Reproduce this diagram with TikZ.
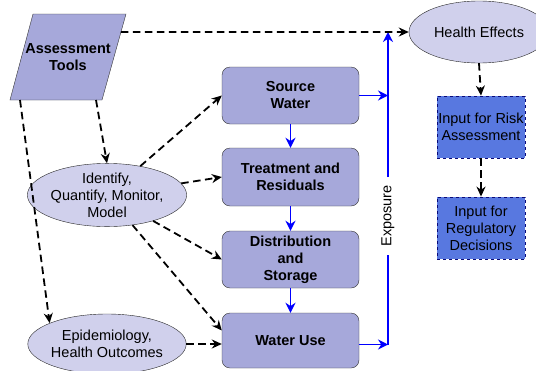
\documentclass[tikz,border=0pt]{standalone}
\usepackage{fontspec}
\setmainfont{Liberation Sans}
\usepackage{xcolor}
\usepackage{tikz}
\usetikzlibrary{calc}
\usetikzlibrary{arrows.meta}
\usetikzlibrary{shapes.geometric}

\definecolor{stagefill}{RGB}{166,168,218}
\definecolor{ovalfill}{RGB}{208,208,236}
\definecolor{inputfill}{RGB}{88,120,224}
\definecolor{inputline}{RGB}{10,10,120}

\begin{document}
\begin{tikzpicture}[x=1pt,y=-1pt]
    \tikzstyle{stage}=[draw=black!80,fill=stagefill,rounded corners=8pt,minimum width=137pt,minimum height=57pt,align=center,font=\bfseries\fontsize{14.5}{17}\selectfont]
    \tikzstyle{oval}=[ellipse,draw=black!85,fill=ovalfill,minimum width=138pt,minimum height=62pt,inner sep=0pt,align=center,font=\fontsize{14.5}{17}\selectfont]
    \tikzstyle{toolbox}=[draw=black!80,fill=stagefill]
    \tikzstyle{input}=[draw=inputline,fill=inputfill,dashed,thick,minimum width=88pt,minimum height=62pt,inner sep=1pt,align=center,font=\fontsize{14.5}{17}\selectfont]
    \tikzstyle{link}=[-{Stealth[length=10pt,width=9pt]},line width=1.8pt,dash pattern=on 7.5pt off 4.5pt]
    \tikzstyle{flow}=[-{Stealth[length=10pt,width=10pt]},line width=1.8pt,color=blue]
    \tikzstyle{pipe}=[line width=1.8pt,color=blue]

    \useasboundingbox (0,0) rectangle (536,370);

    \coordinate (tools nw) at (33,14);
    \coordinate (tools ne) at (126,14);
    \coordinate (tools se) at (102,100);
    \coordinate (tools sw) at (10,100);

    % Left column
    \filldraw[style=toolbox] (tools nw) -- (tools ne) -- (tools se) -- (tools sw) -- cycle;
    \node[align=center,font=\bfseries\fontsize{14.5}{17}\selectfont] (tools) at (68,57) {Assessment\\Tools};
    \node[oval] (identify) at (107,195) {Identify,\\Quantify, Monitor,\\Model};
    \node[oval,minimum height=60pt] (epi) at (107,344) {Epidemiology,\\Health Outcomes};

    % Water stages
    \node[stage] (source) at (290.5,95.5) {Source\\Water};
    \node[stage,minimum height=58pt] (treat) at (290.5,177) {Treatment and\\Residuals};
    \node[stage] (dist) at (290.5,259.5) {Distribution\\and\\Storage};
    \node[stage,minimum height=55pt] (use) at (290.5,340.5) {Water Use};

    % Right column
    \node[oval,minimum width=140pt] (health) at (479,32) {Health Effects};
    \node[input] (risk) at (481,127) {Input for Risk\\Assessment};
    \node[input] (reg) at (481,228) {Input for\\Regulatory\\Decisions};

    % Exposure
    \node[rotate=90,inner sep=8pt,font=\fontsize{14.5}{17}\selectfont] (expo) at (388,216) {Exposure};
    \coordinate (top) at (expo |- health.west);

    \draw[style=flow] (source.south) -- (treat.north);
    \draw[style=flow] (treat.south) -- (dist.north);
    \draw[style=flow] (dist.south) -- (use.north);
    \draw[style=flow] (source.east) -- (source.east -| expo);
    \draw[style=flow] ($(use.east)+(0,4)$) -- ($(use.east -| expo)+(0,4)$);
    \draw[style=pipe] ($(use.east -| expo)+(0,4.9)$) -- (expo.west);
    \draw[style=flow] (expo.east) -- (top);

    % Dashed links
    \draw[style=link] ($(tools ne)!0.21!(tools se)$) -- (health.west);
    \draw[style=link] ($(tools se)+(-6,0)$) -- (identify.north);
    \draw[style=link] ($(tools sw)+(10,0)$) -- (epi.160);
    \draw[style=link] (identify) -- (source.west);
    \draw[style=link] (identify) -- (treat.west);
    \draw[style=link] (identify) -- (dist.west);
    \draw[style=link] (identify) -- ($(use.west)+(0,-10)$);
    \draw[style=link] (epi.east) -- (epi.east -| use.west);
    \draw[style=link] (health.south) -- (risk.north);
    \draw[style=link] (risk.south) -- (reg.north);

\end{tikzpicture}
\end{document}
